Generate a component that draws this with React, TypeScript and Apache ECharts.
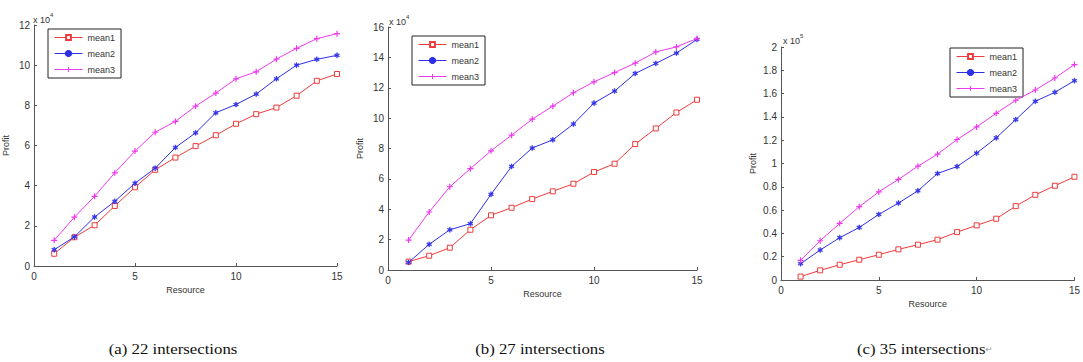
import React, { useEffect, useRef } from "react";
import * as echarts from "echarts";

const resource = [1, 2, 3, 4, 5, 6, 7, 8, 9, 10, 11, 12, 13, 14, 15];
const seriesNames = ["mean1", "mean2", "mean3"];

// Panel (a): 22 intersections, values in x10^4
const aMean1 = [0.61, 1.43, 2.03, 2.99, 3.92, 4.79, 5.4, 5.97, 6.51, 7.08, 7.56, 7.89, 8.48, 9.22, 9.56];
const aMean2 = [0.81, 1.45, 2.44, 3.22, 4.12, 4.87, 5.9, 6.63, 7.63, 8.04, 8.56, 9.32, 10.0, 10.29, 10.49];
const aMean3 = [1.28, 2.43, 3.47, 4.64, 5.72, 6.66, 7.2, 7.96, 8.61, 9.32, 9.67, 10.3, 10.84, 11.32, 11.57];

// Panel (b): 27 intersections, values in x10^4
const bMean1 = [0.55, 0.94, 1.47, 2.65, 3.6, 4.1, 4.67, 5.18, 5.68, 6.45, 7.0, 8.29, 9.32, 10.37, 11.21];
const bMean2 = [0.5, 1.69, 2.65, 3.05, 4.98, 6.82, 8.03, 8.57, 9.61, 10.99, 11.78, 12.94, 13.6, 14.28, 15.18];
const bMean3 = [1.97, 3.82, 5.48, 6.67, 7.85, 8.88, 9.93, 10.79, 11.67, 12.39, 13.0, 13.62, 14.36, 14.69, 15.24];

// Panel (c): 35 intersections, values in x10^5
const cMean1 = [0.029, 0.083, 0.131, 0.174, 0.217, 0.263, 0.303, 0.346, 0.411, 0.469, 0.526, 0.634, 0.731, 0.809, 0.886];
const cMean2 = [0.14, 0.257, 0.363, 0.451, 0.563, 0.66, 0.766, 0.914, 0.974, 1.089, 1.22, 1.377, 1.534, 1.611, 1.711];
const cMean3 = [0.169, 0.337, 0.486, 0.629, 0.757, 0.863, 0.977, 1.08, 1.206, 1.314, 1.431, 1.543, 1.631, 1.734, 1.849];

const yMax = [12, 16, 2];
const yInterval = [2, 2, 0.2];
const multipliers = ["4", "4", "5"];
const captions = ["(a) 22 intersections", "(b) 27 intersections", "(c) 35 intersections"];

const panels = [
  [aMean1, aMean2, aMean3],
  [bMean1, bMean2, bMean3],
  [cMean1, cMean2, cMean3],
];

const COLORS = ["#ee3b3b", "#2f2fe6", "#ee38ee"];
const FONT = "'Liberation Sans', Arial, sans-serif";

const grids = [
  { left: 32, top: 25, width: 305, height: 241 },
  { left: 388, top: 27, width: 309, height: 243 },
  { left: 781, top: 47, width: 298, height: 233 },
];
const legendPos = [
  { left: 48, top: 29 },
  { left: 412, top: 36 },
  { left: 950, top: 48 },
];
const multPos = [
  { x: 33, y: 12 },
  { x: 389, y: 14 },
  { x: 783, y: 33 },
];
const captionX = [173, 540, 925];

const plusPath = "path://M4,0H6V4H10V6H6V10H4V6H0V4H4Z";
const starPath =
  "path://M4.3,0H5.7V3.3L8.6,1.6L9.3,2.8L6.4,4.5L9.3,6.2L8.6,7.4L5.7,5.7V9H4.3V5.7L1.4,7.4L0.7,6.2L3.6,4.5L0.7,2.8L1.4,1.6L4.3,3.3Z";

export default function App() {
  const ref = useRef<HTMLDivElement>(null);

  useEffect(() => {
    if (!ref.current) return;
    const chart = echarts.init(ref.current, null, { renderer: "svg" });

    const xAxis = grids.map((_, i) => ({
      type: "value",
      gridIndex: i,
      min: 0,
      max: 15,
      interval: 5,
      name: "Resource",
      nameLocation: "middle",
      nameGap: 19,
      nameTextStyle: { fontFamily: FONT, fontSize: 9, color: "#333" },
      axisLine: { show: true, lineStyle: { color: "#555", width: 1 } },
      axisTick: { show: true, inside: true, length: 3, lineStyle: { color: "#555" } },
      axisLabel: { fontFamily: FONT, fontSize: 10, color: "#333", margin: 5 },
      splitLine: { show: false },
    }));

    const yAxis = grids.map((_, i) => ({
      type: "value",
      gridIndex: i,
      min: 0,
      max: yMax[i],
      interval: yInterval[i],
      name: "Profit",
      nameLocation: "middle",
      nameGap: 24,
      nameTextStyle: { fontFamily: FONT, fontSize: 9, color: "#333" },
      axisLine: { show: true, lineStyle: { color: "#555", width: 1 } },
      axisTick: { show: true, inside: true, length: 3, lineStyle: { color: "#555" } },
      axisLabel: {
        fontFamily: FONT,
        fontSize: 10,
        color: "#333",
        margin: 4,
        formatter: (v: number) => String(Math.round(v * 10) / 10),
      },
      splitLine: { show: false },
    }));

    const series: any[] = [];
    panels.forEach((panel, p) => {
      panel.forEach((vals, s) => {
        const common: any = {
          name: seriesNames[s],
          type: "line",
          xAxisIndex: p,
          yAxisIndex: p,
          data: resource.map((x, k) => [x, vals[k]]),
          lineStyle: { color: COLORS[s], width: 1 },
          z: 2 + s,
        };
        if (s === 0) {
          common.symbol = "rect";
          common.symbolSize = 5;
          common.itemStyle = { color: "#fff", borderColor: COLORS[s], borderWidth: 1 };
        } else if (s === 1) {
          common.symbol = starPath;
          common.symbolSize = 5;
          common.itemStyle = { color: COLORS[s], borderColor: COLORS[s], borderWidth: 0.5 };
        } else {
          common.symbol = plusPath;
          common.symbolSize = 6;
          common.itemStyle = { color: COLORS[s] };
        }
        series.push(common);
      });
    });

    const legend = legendPos.map((pos) => ({
      ...pos,
      orient: "vertical",
      data: seriesNames,
      backgroundColor: "#fff",
      borderColor: "#222",
      borderWidth: 1,
      padding: [4, 6, 4, 6],
      itemGap: 7,
      itemWidth: 28,
      itemHeight: 6,
      lineStyle: { width: 1 },
      textStyle: { fontFamily: FONT, fontSize: 9, color: "#333" },
      selectedMode: false,
    }));

    const graphic: any[] = [];
    multPos.forEach((pos, i) => {
      graphic.push({
        type: "text",
        x: pos.x,
        y: pos.y,
        style: {
          text: "{a|x 10}{b|" + multipliers[i] + "}",
          rich: {
            a: { fontFamily: FONT, fontSize: 9, fill: "#333", verticalAlign: "bottom" },
            b: { fontFamily: FONT, fontSize: 6, fill: "#333", verticalAlign: "top", padding: [0, 0, 6, 0] },
          },
        },
      });
    });
    captions.forEach((c, i) => {
      graphic.push({
        type: "text",
        x: captionX[i],
        y: 349,
        scaleX: 1.12,
        style: {
          text: i === 2 ? "{m|" + c + "}{r|↵}" : "{m|" + c + "}",
          align: "center",
          verticalAlign: "middle",
          rich: {
            m: { fontFamily: "'Liberation Serif', 'Times New Roman', serif", fontSize: 15, fill: "#111" },
            r: { fontFamily: "'DejaVu Sans', sans-serif", fontSize: 8, fill: "#999" },
          },
        },
      });
    });

    chart.setOption({
      animation: false,
      backgroundColor: "#fff",
      grid: grids.map((g) => ({ ...g, containLabel: false })),
      xAxis,
      yAxis,
      legend,
      series,
      graphic,
    });

    return () => chart.dispose();
  }, []);

  return (
    <div
      ref={ref}
      style={{ position: "fixed", left: 0, top: 0, width: 1083, height: 362, background: "#fff" }}
    />
  );
}
